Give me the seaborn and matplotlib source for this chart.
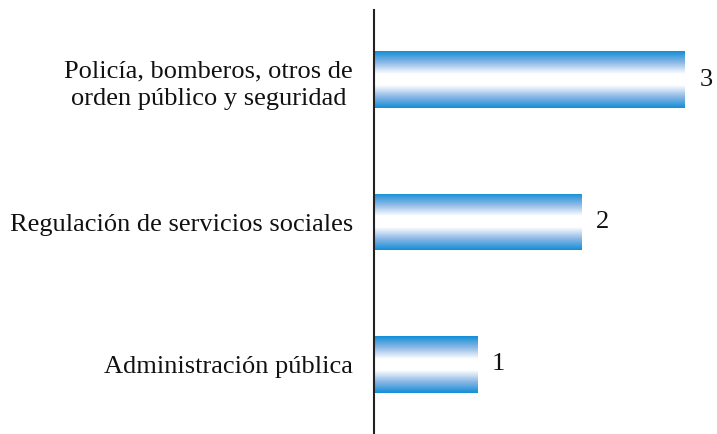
import numpy as np
import pandas as pd
import matplotlib
matplotlib.use("Agg")
import matplotlib.pyplot as plt
import seaborn as sns
from matplotlib.colors import LinearSegmentedColormap

categories = [
    "Policía, bomberos, otros de\norden público y seguridad",
    "Regulación de servicios sociales",
    "Administración pública",
]
values = [3, 2, 1]

df = pd.DataFrame({"category": categories, "value": values})

sns.set_style("white")
plt.rcParams["font.family"] = ["Liberation Serif", "DejaVu Serif"]

fig = plt.figure(figsize=(7.17, 4.34), dpi=100)
ax = fig.add_axes([374 / 717, 0, 1 - 374 / 717, 1 - 10 / 434])

sns.barplot(data=df, x="value", y="category", orient="h", width=0.4,
            color="white", edgecolor="none", ax=ax)

# vertical gradient fill: blue edges, white centre
blue = (0.07, 0.56, 0.84)
cmap = LinearSegmentedColormap.from_list(
    "grad", [blue, (0.55, 0.72, 0.90), "white", "white", (0.55, 0.72, 0.90), blue])
grad = np.linspace(0, 1, 256).reshape(-1, 1)
for patch in ax.patches:
    x0, y0 = patch.get_x(), patch.get_y()
    w, h = patch.get_width(), patch.get_height()
    im = ax.imshow(grad, cmap=cmap, aspect="auto",
                   extent=[x0, x0 + w, y0 + h, y0], zorder=2)
    im.set_clip_path(patch)
    ax.text(x0 + w + 0.14, y0 + h / 2, f"{w:.0f}", va="center", ha="left",
            fontsize=19, color="#111111")

ax.set_xlim(0, 3.31)
ax.set_ylim(2.49, -0.49)
ax.set_xlabel("")
ax.set_ylabel("")
ax.set_xticks([])
ax.tick_params(axis="y", length=0, pad=15, labelsize=19, labelcolor="#111111")
for lbl in ax.get_yticklabels():
    lbl.set_horizontalalignment("right")
    lbl.set_multialignment("center")
    lbl.set_linespacing(1.35)
for side in ["top", "right", "bottom"]:
    ax.spines[side].set_visible(False)
ax.spines["left"].set_color("#222222")
ax.spines["left"].set_linewidth(1.5)

fig.savefig("out.png", dpi=100)
